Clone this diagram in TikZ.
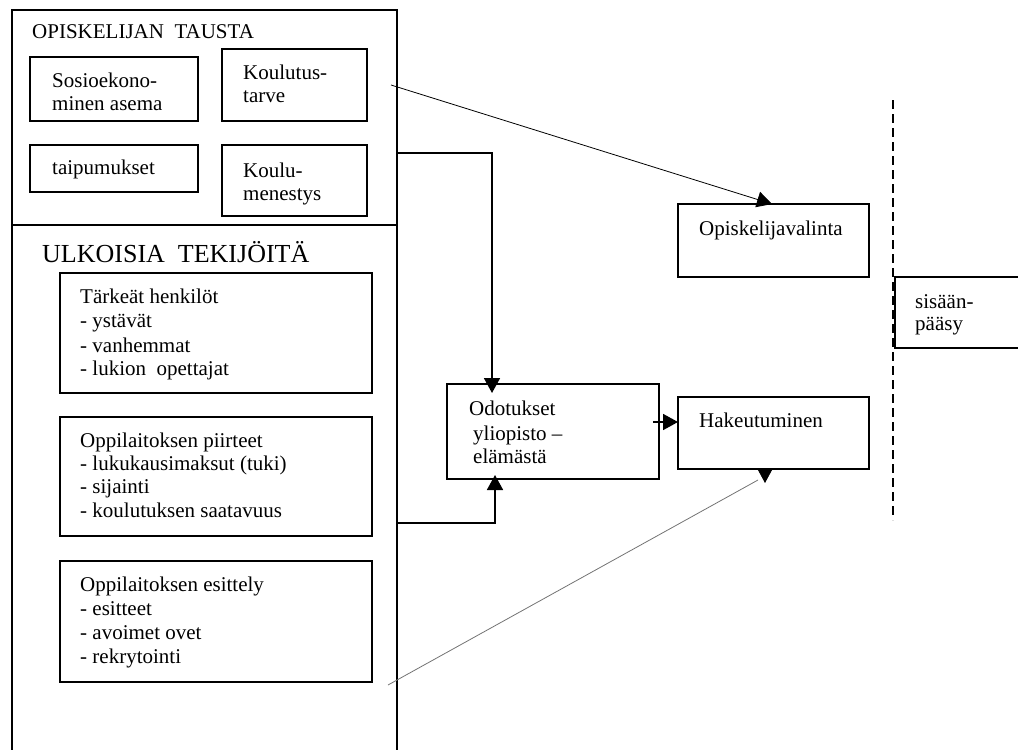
\documentclass[tikz,border=0pt]{standalone}
\usepackage{fontspec}
\setmainfont{Liberation Serif}
\usetikzlibrary{arrows.meta,calc}

\tikzset{
  frame/.style={draw, line width=1.8pt, anchor=north west, inner sep=0pt, outer sep=0pt},
  txt/.style={anchor=base west, inner sep=0pt, font=\fontsize{21}{24}\selectfont},
  head/.style={anchor=base west, inner sep=0pt, font=\fontsize{26}{30}\selectfont},
  tip/.style={-{Triangle[length=15pt,width=16pt]}},
  boldlink/.style={tip, line width=1.8pt},
  thinlink/.style={tip, line width=0.8pt},
  greylink/.style={line width=0.8pt, black!55},
  border/.style={line width=1.6pt, dash pattern=on 9pt off 5pt}
}

\begin{document}
\begin{tikzpicture}[x=1pt, y=-1pt]
\useasboundingbox (0,0) rectangle (1018,750);

% left column: background and outside factors
\node[frame, minimum width=385pt, minimum height=215pt] (tausta) at (12,10) {};
\node[frame, minimum width=385pt, minimum height=535pt] (ulkoiset) at (12,225) {};

\node[txt] (tausta-t) at (32,38) {OPISKELIJAN\ \ TAUSTA};
\node[frame, minimum width=168pt, minimum height=64pt] (sos) at (30,57) {};
\node[txt] (sos-1) at (52,87) {Sosioekono-};
\node[txt] (sos-2) at (52,110) {minen asema};
\node[frame, minimum width=145pt, minimum height=72pt] (tarve) at (222,49) {};
\node[txt] (tarve-1) at (243,79) {Koulutus-};
\node[txt] (tarve-2) at (243,102) {tarve};
\node[frame, minimum width=168pt, minimum height=47pt] (taip) at (30,145) {};
\node[txt] (taip-1) at (52,174) {taipumukset};
\node[frame, minimum width=145pt, minimum height=71pt] (menestys) at (222,145) {};
\node[txt] (menestys-1) at (243,177) {Koulu-};
\node[txt] (menestys-2) at (243,200) {menestys};

\node[head] (ulkoiset-t) at (42,262) {ULKOISIA\ \ TEKIJÖITÄ};
\node[frame, minimum width=312pt, minimum height=120pt] (henk) at (60,273) {};
\node[txt] (henk-1) at (80,303) {Tärkeät henkilöt};
\node[txt] (henk-2) at (80,327) {- ystävät};
\node[txt] (henk-3) at (80,352) {- vanhemmat};
\node[txt] (henk-4) at (80,375) {- lukion\ \ opettajat};
\node[frame, minimum width=312pt, minimum height=119pt] (piirteet) at (60,417) {};
\node[txt] (piirteet-1) at (80,447) {Oppilaitoksen piirteet};
\node[txt] (piirteet-2) at (80,470) {- lukukausimaksut (tuki)};
\node[txt] (piirteet-3) at (80,493) {- sijainti};
\node[txt] (piirteet-4) at (80,517) {- koulutuksen saatavuus};
\node[frame, minimum width=312pt, minimum height=121pt] (esittely) at (60,561) {};
\node[txt] (esittely-1) at (80,591) {Oppilaitoksen esittely};
\node[txt] (esittely-2) at (80,615) {- esitteet};
\node[txt] (esittely-3) at (80,639) {- avoimet ovet};
\node[txt] (esittely-4) at (80,663) {- rekrytointi};

% middle and right: expectations, application, selection, admission
\node[frame, minimum width=212pt, minimum height=95pt] (odotukset) at (447,384) {};
\node[txt] (odotukset-1) at (469,415) {Odotukset};
\node[txt] (odotukset-2) at (473,440) {yliopisto –};
\node[txt] (odotukset-3) at (473,463) {elämästä};
\node[frame, minimum width=191pt, minimum height=72pt] (hak) at (678,397) {};
\node[txt] (hak-1) at (699,427) {Hakeutuminen};
\node[frame, minimum width=191pt, minimum height=73pt] (valinta) at (678,204) {};
\node[txt] (valinta-1) at (699,235) {Opiskelijavalinta};
\node[frame, minimum width=130pt, minimum height=71pt] (paasy) at (895,277) {};
\node[txt] (paasy-1) at (915,308) {sisään-};
\node[txt] (paasy-2) at (915,330) {pääsy};

% admission boundary
\coordinate (raja-a) at (893,100);
\coordinate (raja-b) at (893,520);
\draw[border] (raja-a) -- (raja-b);

% connectors
\coordinate (tarve-out) at (391,85);
\coordinate (menestys-out) at (397,153);
\coordinate (piirteet-out) at (397,523);
\coordinate (esittely-out) at (388,685);

\draw[thinlink] (tarve-out) -- ($(valinta.north west)+(94,0)$);
\draw[boldlink] (menestys-out) -| ($(odotukset.north west)+(45,9)$);
\draw[boldlink] (piirteet-out) -| ($(odotukset.south west)+(48,-4)$);
\draw[boldlink] ($(odotukset.north east)+(-6,38)$) -- ($(hak.north west)+(0,25)$);
\draw[greylink] (esittely-out) -- ($(hak.south west)+(80,11)$);
\draw[tip, line width=0.8pt] ($(hak.south west)+(87,0)$) -- ($(hak.south west)+(87,14)$);
\end{tikzpicture}
\end{document}
